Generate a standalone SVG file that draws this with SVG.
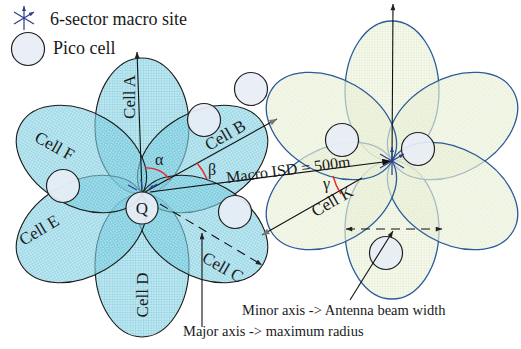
<svg xmlns="http://www.w3.org/2000/svg" width="521" height="349" viewBox="0 0 521 349">
<defs>
<pattern id="pl" width="2.6" height="2.6" patternUnits="userSpaceOnUse"><rect width="2.6" height="2.6" fill="#9cdcea"/><path d="M0 0.3H2.6M0.3 0V2.6" stroke="#45b2cc" stroke-width="0.6"/></pattern>
<pattern id="pr" width="2.6" height="2.6" patternUnits="userSpaceOnUse"><rect width="2.6" height="2.6" fill="#f2f6e4"/><path d="M0 0.3H2.6M0.3 0V2.6" stroke="#d6e2bc" stroke-width="0.6"/></pattern>
<marker id="ab" viewBox="0 0 10 8" refX="10" refY="4" markerWidth="9" markerHeight="7" markerUnits="userSpaceOnUse" orient="auto-start-reverse"><path d="M0,0 L10,4 L0,8 z" fill="#111"/></marker>
<marker id="ak" viewBox="0 0 10 8" refX="10" refY="4" markerWidth="7" markerHeight="5" markerUnits="userSpaceOnUse" orient="auto-start-reverse"><path d="M0,0 L10,4 L0,8 z" fill="#222"/></marker>
<marker id="ag" viewBox="0 0 10 8" refX="10" refY="4" markerWidth="8" markerHeight="6" markerUnits="userSpaceOnUse" orient="auto"><path d="M0,0 L10,4 L0,8 z" fill="#777"/></marker>
<marker id="as" viewBox="0 0 10 8" refX="10" refY="4" markerWidth="5" markerHeight="4" markerUnits="userSpaceOnUse" orient="auto-start-reverse"><path d="M0,0 L10,4 L0,8 z" fill="#2c3e8c"/></marker>
<style>
.pl{fill:url(#pl);fill-opacity:0.62;stroke:#1a1a1a;stroke-width:1.1}
.pr{fill:url(#pr);fill-opacity:0.65;stroke:#2a5b98;stroke-width:1.3}
.pico{fill:#e8eef6;fill-opacity:0.92;stroke:#222;stroke-width:1.2}
.t{font-family:"Liberation Serif","Times New Roman",serif;fill:#1a1a1a}
.cl{font-size:17px}
.ln{stroke:#111;stroke-width:1.1;fill:none}
.sym{stroke:#2c3e8c;stroke-width:1.2;fill:none}
.arc{stroke:#e8262a;stroke-width:1.4;fill:none}
</style>
</defs>
<g id="legend">
<g id="legend-macro">
<path class="sym" d="M24,6V30M14,12L34,24M14,24L34,12" marker-start="url(#as)" marker-end="url(#as)"/>
<text class="t" x="50" y="25" font-size="18">6-sector macro site</text>
</g>
<g id="legend-pico">
<circle class="pico" cx="28" cy="49" r="16.5"/>
<text class="t" x="53" y="54" font-size="18">Pico cell</text>
</g>
</g>
<g id="left-site">
<ellipse id="cell-A" class="pl" cx="142" cy="126" rx="47" ry="68"/>
<ellipse id="cell-D" class="pl" cx="142" cy="265.5" rx="47" ry="71.5"/>
<ellipse id="cell-B" class="pl" cx="202.6" cy="159" rx="70" ry="47" transform="rotate(-30 202.6 159)"/>
<ellipse id="cell-C" class="pl" cx="202.6" cy="229" rx="70" ry="47" transform="rotate(30 202.6 229)"/>
<ellipse id="cell-E" class="pl" cx="81.4" cy="229" rx="70" ry="47" transform="rotate(-30 81.4 229)"/>
<ellipse id="cell-F" class="pl" cx="81.4" cy="159" rx="70" ry="47" transform="rotate(30 81.4 159)"/>
</g>
<g id="right-site">
<ellipse id="r-top" class="pr" cx="392" cy="91" rx="47" ry="70"/>
<ellipse id="r-bottom" class="pr" cx="392" cy="230" rx="47" ry="69"/>
<ellipse id="r-ur" class="pr" cx="452.6" cy="126" rx="70" ry="47" transform="rotate(-30 452.6 126)"/>
<ellipse id="r-lr" class="pr" cx="452.6" cy="196" rx="70" ry="47" transform="rotate(30 452.6 196)"/>
<ellipse id="cell-K" class="pr" cx="331.4" cy="196" rx="70" ry="47" transform="rotate(-30 331.4 196)"/>
<ellipse id="r-ul" class="pr" cx="331.4" cy="126" rx="70" ry="47" transform="rotate(30 331.4 126)"/>
</g>
<g id="picos">
<circle id="pico-1" class="pico" cx="204" cy="120" r="16.5"/>
<circle id="pico-2" class="pico" cx="251" cy="89" r="16.5"/>
<circle id="pico-3" class="pico" cx="63" cy="186" r="16.5"/>
<circle id="pico-4" class="pico" cx="235" cy="212" r="16.5"/>
<circle id="pico-5" class="pico" cx="342" cy="140" r="16.5"/>
<circle id="pico-6" class="pico" cx="418" cy="149" r="16.5"/>
<circle id="pico-7" class="pico" cx="386" cy="253" r="16.5"/>
</g>
<g id="connectors">
<path class="ln" d="M142,192 L137,52" marker-end="url(#ak)"/>
<path class="ln" d="M392,161 L393,4" stroke="#444" stroke-width="0.9" marker-end="url(#ak)"/>
<path class="ln" d="M145,192 L277,119" marker-end="url(#ag)"/>
<path class="ln" d="M362,178 L262,235" marker-end="url(#ag)"/>
<path class="ln" d="M150,192 L391,161" stroke-width="1.4" marker-end="url(#ab)"/>
<path class="ln" d="M160,204 L262,265" stroke-dasharray="9 6" marker-end="url(#ak)"/>
<path class="ln" d="M346,229 L442,229" stroke-dasharray="9 6" marker-start="url(#ak)" marker-end="url(#ak)"/>
<path class="ln" d="M202,327 L202,233" marker-end="url(#ak)"/>
<path class="ln" d="M350,300 L393,231" marker-end="url(#ak)"/>
<path class="arc" d="M145,168 A27,27 0 0 1 170,180"/>
<path class="arc" d="M197,163 A64,64 0 0 1 207,179"/>
<path class="arc" d="M333,176 A62,62 0 0 0 341,194"/>
<path class="sym" d="M128,185 L137,190M141,179 L142,189M157,184 L149,189" marker-end="url(#as)"/>
<path class="sym" d="M392,147V175M380,154L404,168M380,168L404,154" marker-start="url(#as)" marker-end="url(#as)"/>
</g>
<g id="pico-Q">
<circle class="pico" cx="142" cy="208" r="16"/>
<text class="t" x="142" y="214" font-size="17" text-anchor="middle">Q</text>
</g>
<g id="labels">
<text class="t cl" text-anchor="middle" transform="translate(135,97) rotate(-90)">Cell A</text>
<text class="t cl" text-anchor="middle" transform="translate(228,140) rotate(-30)">Cell B</text>
<text class="t cl" text-anchor="middle" transform="translate(220,272) rotate(30)">Cell C</text>
<text class="t cl" text-anchor="middle" transform="translate(148,295) rotate(-90)">Cell D</text>
<text class="t cl" text-anchor="middle" transform="translate(42,235) rotate(-31)">Cell E</text>
<text class="t cl" text-anchor="middle" transform="translate(52,151) rotate(29)">Cell F</text>
<text class="t cl" text-anchor="middle" transform="translate(335,206) rotate(-30)">Cell K</text>
<text class="t" font-size="16" transform="translate(227,183) rotate(-7.5)">Macro ISD = 500m</text>
<text class="t" font-size="16" x="155" y="165">α</text>
<text class="t" font-size="16" x="208" y="175">β</text>
<text class="t" font-size="16" x="323" y="189">γ</text>
<text class="t" font-size="14.5" x="242" y="315">Minor axis -&gt; Antenna beam width</text>
<text class="t" font-size="14.5" x="183" y="336">Major axis -&gt; maximum radius</text>
</g>
</svg>
